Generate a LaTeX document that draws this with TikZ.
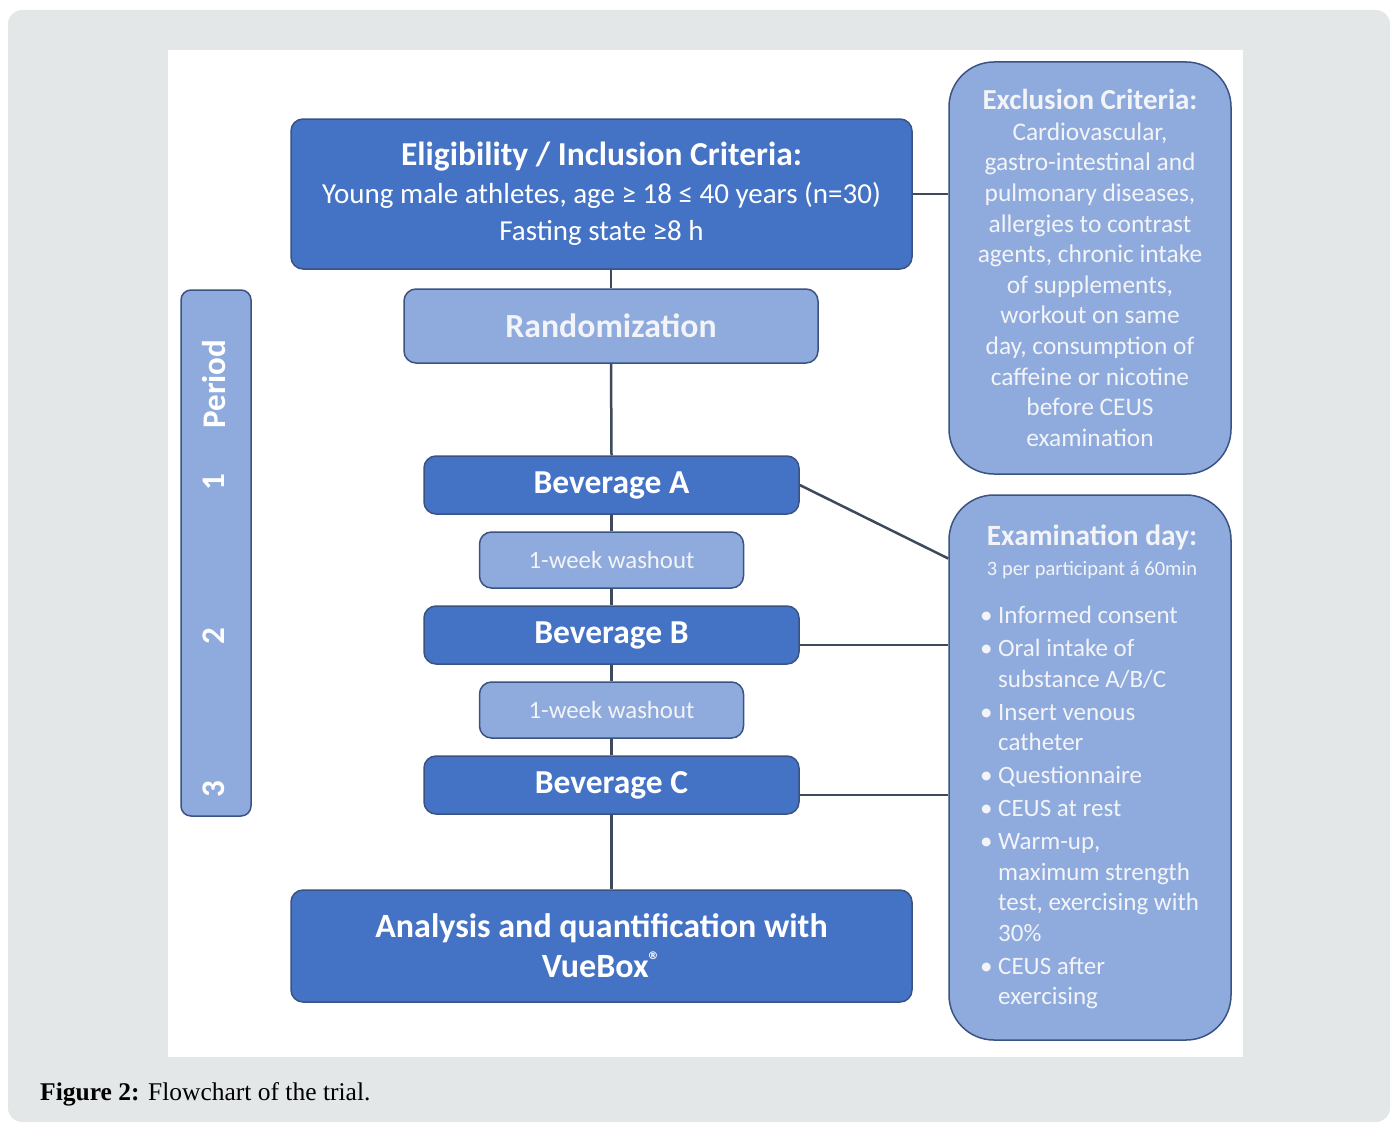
\documentclass[tikz,border=0pt]{standalone}
\usepackage{fontspec}
\setmainfont{Carlito}
\newfontfamily\capfont{Liberation Serif}
\usetikzlibrary{positioning}
\definecolor{dkblue}{HTML}{4472C4}
\definecolor{ltblue}{HTML}{8FAADC}
\definecolor{edge}{HTML}{3A5383}
\definecolor{lnk}{HTML}{3E4A5C}
\definecolor{bgray}{HTML}{E3E7E7}
\definecolor{ltext}{HTML}{F2F4F8}
\newcommand\itm{\makebox[18pt][l]{\textbullet}}
\newcommand\cnt{\hspace*{18pt}}

\begin{document}
\begin{tikzpicture}[x=1pt,y=-1pt,
  dk/.style={rectangle,rounded corners=12pt,draw=edge,fill=dkblue,text=white,align=center,line width=1.5pt,inner sep=0pt},
  lt/.style={rectangle,rounded corners=12pt,draw=edge,fill=ltblue,text=ltext,align=center,line width=1.5pt,inner sep=0pt},
  side/.style={lt,rounded corners=45pt,minimum width=282},
  bev/.style={dk,minimum width=375,minimum height=58,font=\fontsize{33.5}{38}\selectfont\bfseries},
  wash/.style={lt,minimum width=264,minimum height=56,font=\fontsize{24.8}{28}\selectfont},
  per/.style={rotate=90,text=white,font=\fontsize{33}{38}\selectfont\bfseries},
  ln/.style={draw=lnk,line width=2.5pt}]
\useasboundingbox (0,0) rectangle (1394,1124);
\fill[bgray,rounded corners=14pt](8,10) rectangle (1390,1122);
\fill[white](168,50) rectangle (1243,1057);

% main column
\node[dk,minimum width=621,minimum height=150,font=\fontsize{29}{37}\selectfont](elig) at (601.5,194)
  {{\fontsize{33.5}{38}\selectfont\bfseries Eligibility / Inclusion Criteria:}\\[1pt]
   Young male athletes, age ≥ 18 ≤ 40 years (n=30)\\Fasting state ≥8 h};
\node[lt,minimum width=414,minimum height=74,font=\fontsize{33.8}{38}\selectfont\bfseries](rand) at (611,326){Randomization};
\node[bev](bevA) at (611.5,485){Beverage A};
\node[wash,below=16.5pt of bevA](w1){1-week washout};
\node[bev,below=16.5pt of w1](bevB){Beverage B};
\node[wash,below=16.5pt of bevB](w2){1-week washout};
\node[bev,below=16.5pt of w2](bevC){Beverage C};
\node[dk,minimum width=621,minimum height=112,font=\fontsize{34}{40}\selectfont\bfseries](ana) at (601.5,946)
  {Analysis and quantification with\\VueBox\textsuperscript{®}};

% period bar
\node[lt,rounded corners=10pt,minimum width=70,minimum height=526](period) at (216,553){};
\node[per](p1) at (214,482){1};
\node[per](pname) at (214,384){Period};
\node[per](p2) at (214,636){2};
\node[per](p3) at (214,789){3};

% side boxes
\node[side,minimum height=412,font=\fontsize{25.4}{30.6}\selectfont](excl) at (1090,268)
  {{\fontsize{29}{32}\selectfont\bfseries Exclusion Criteria:}\\[0pt]
   Cardiovascular,\\gastro-intestinal and\\pulmonary diseases,\\allergies to contrast\\
   agents, chronic intake\\of supplements,\\workout on same\\day, consumption of\\
   caffeine or nicotine\\before CEUS\\examination};
\node[side,minimum height=545](exam) at (1090,767.5){};
\node[text=ltext,align=center,font=\fontsize{20.5}{30}\selectfont](examhd) at (1092,552)
  {{\fontsize{29.4}{32}\selectfont\bfseries Examination day:}\\3 per participant á 60min};
\node[text=ltext,align=left,anchor=north west,inner sep=0pt,font=\fontsize{25}{30.5}\selectfont](examlist) at (980,606)
  {\itm Informed consent\\[2.5pt]
   \itm Oral intake of\\\cnt substance A/B/C\\[2.5pt]
   \itm Insert venous\\\cnt catheter\\[2.5pt]
   \itm Questionnaire\\[2.5pt]
   \itm CEUS at rest\\[2.5pt]
   \itm Warm-up,\\\cnt maximum strength\\\cnt test, exercising with\\\cnt 30\%\\[2.5pt]
   \itm CEUS after\\\cnt exercising};

% connectors
\draw[ln](rand.north) -- (rand.north |- elig.south);
\draw[ln](rand.south) -- (bevA.north);
\draw[ln](bevA.south) -- (w1.north);
\draw[ln](w1.south) -- (bevB.north);
\draw[ln](bevB.south) -- (w2.north);
\draw[ln](w2.south) -- (bevC.north);
\draw[ln](bevC.south) -- (bevC.south |- ana.north);
\draw[ln](elig.east) -- (elig.east -| excl.west);
\draw[ln](bevA.east) -- ([yshift=209pt]exam.west);
\draw[ln]([yshift=-10pt]bevB.east) -- ([yshift=-10pt]bevB.east -| exam.west);
\draw[ln]([yshift=-10pt]bevC.east) -- ([yshift=-10pt]bevC.east -| exam.west);

% caption
\node[anchor=base west,inner sep=0pt,font=\capfont\fontsize{25.5}{30}\selectfont](cap) at (40,1100)
  {\textbf{Figure 2:} Flowchart of the trial.};
\end{tikzpicture}
\end{document}
